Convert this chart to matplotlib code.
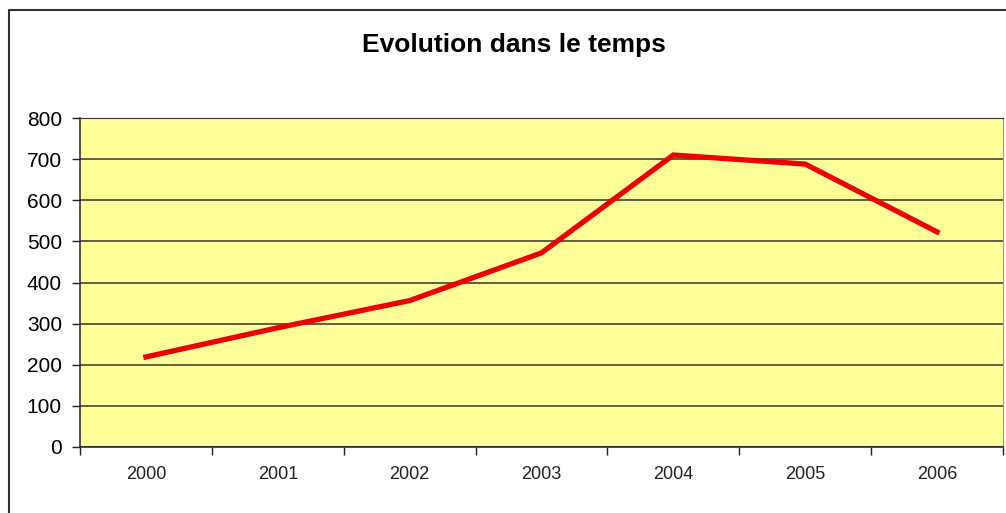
import matplotlib.pyplot as plt
from matplotlib.lines import Line2D

# data
years = ['2000', '2001', '2002', '2003', '2004', '2005', '2006']
values = [219, 290, 356, 472, 710, 688, 523]
yticks = [0, 100, 200, 300, 400, 500, 600, 700, 800]

plt.rcParams['font.family'] = ['Liberation Sans', 'DejaVu Sans']

fig = plt.figure(figsize=(10.06, 5.13), dpi=100)
ax = fig.add_axes([80 / 1006, 1 - 447 / 513, (1003 - 80) / 1006, (447 - 118) / 513])
ax.set_facecolor('#FFFF99')

x = list(range(len(years)))
ax.plot(x, values, color='#EE0000', linewidth=3.8, solid_joinstyle='miter', zorder=3)

ax.set_xlim(-0.5, len(years) - 0.5)
ax.set_ylim(0, 800)
ax.set_yticks(yticks)
ax.set_yticklabels([str(v) for v in yticks], fontsize=15)
ax.yaxis.grid(True, color='#333333', linewidth=1.1)
ax.set_axisbelow(True)

# category labels at centers, tick marks at boundaries
ax.set_xticks(x)
ax.set_xticklabels(years, fontsize=13, color='#222222')
ax.tick_params(axis='x', which='major', length=0, pad=14)
ax.set_xticks([i - 0.5 for i in range(len(years) + 1)], minor=True)
ax.tick_params(axis='x', which='minor', length=6, width=1, color='#222222', direction='out')
ax.tick_params(axis='y', length=6, width=1, color='#222222', pad=7)

for s in ['left', 'bottom']:
    ax.spines[s].set_color('#222222')
    ax.spines[s].set_linewidth(1.1)
ax.spines['top'].set_color('#333333')
ax.spines['right'].set_color('#999999')

fig.text(514 / 1006, 1 - 45 / 513, 'Evolution dans le temps', ha='center', va='center',
         fontsize=19, fontweight='bold')

# outer chart border (left and top visible)
fig.add_artist(Line2D([8.5 / 1006, 8.5 / 1006, 1.0], [0, 1 - 9.5 / 513, 1 - 9.5 / 513],
                      color='#333333', linewidth=1.5, transform=fig.transFigure))

fig.savefig('out.png', dpi=100)
